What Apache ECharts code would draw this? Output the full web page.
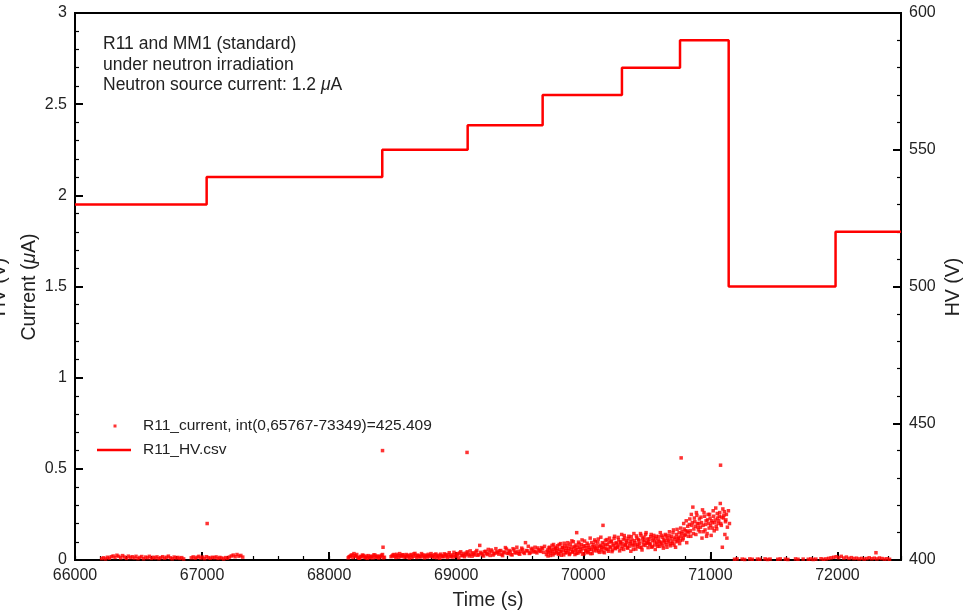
<!DOCTYPE html>
<html>
<head>
<meta charset="utf-8">
<script src="https://cdn.jsdelivr.net/npm/echarts@6.0.0/dist/echarts.min.js"></script>
<style>
  html, body { margin: 0; padding: 0; background: #fff; }
  #chart { width: 965px; height: 610px; }
</style>
</head>
<body>
<div id="chart"></div>
<script>
// HV set points (right axis), value holds from each time until the next one
const hvTimes = [66000, 67036, 68418, 69090, 69680, 70304, 70761, 71144, 71985, 72500];
const hvValues = [530, 540, 550, 559, 570, 580, 590, 500, 520, 520];

// current readings, regular sampling per segment (null = no reading)
const curAStart = 66210, curAStep = 15;
const curA = [
  0.008, 0.012, 0.006, 0.015, 0.01, 0.018, 0.022, 0.014, 0.026, 0.02,
  0.012, 0.024, 0.016, 0.009, 0.021, 0.013, 0.018, 0.011, 0.02, 0.008,
  0.014, 0.019, 0.007, 0.016, 0.012, 0.02, 0.009, 0.015, 0.011, 0.017,
  0.008, 0.013, 0.018, 0.01, 0.015, 0.021, 0.012, 0.007, 0.016, 0.011,
  0.014, 0.009, 0.013, 0.006, null, null, null, 0.012, 0.017, 0.01,
  0.015, 0.02, 0.011, 0.016, 0.008, 0.018, 0.013, 0.01, 0.015, 0.012,
  0.017, 0.009, 0.014, 0.011, 0.006, 0.013, 0.01, 0.016, 0.022, 0.027,
  0.018, 0.03, 0.021, 0.025, 0.016
];

const curBStart = 68150, curBStep = 15;
const curB = [
  0.012, 0.02, 0.028, 0.035, 0.022, 0.015, 0.01, 0.018, 0.025, 0.013,
  0.009, 0.016, 0.021, 0.012, 0.027, 0.018, 0.011, 0.02, 0.03, 0.015,
  null, null, null, 0.022, 0.03, 0.014, 0.024, 0.035, 0.019, 0.027,
  0.016, 0.025, 0.011, 0.03, 0.02, 0.036, 0.014, 0.023, 0.017, 0.028,
  0.012, 0.022, 0.031, 0.019, 0.026, 0.015, 0.033, 0.021, 0.01, 0.024,
  0.018, 0.029, 0.014, 0.04, 0.022, 0.016, 0.027, 0.035, 0.012, 0.045,
  0.025, 0.018, 0.038, 0.03, 0.05, 0.021, 0.033, 0.044, 0.026, 0.08,
  0.035, 0.022, 0.048, 0.03, 0.041, 0.055, 0.027, 0.038, 0.046, 0.032,
  0.052, 0.024, 0.04, 0.06, 0.035, 0.045, 0.028, 0.055, 0.038, 0.048,
  0.032, 0.065, 0.042, 0.095, 0.05, 0.036, 0.058, 0.044, 0.07, 0.039,
  0.056, 0.047, 0.062, 0.075
];

// second read-out interleaved with curB (offset 7 s)
const curB2Start = 68157, curB2Step = 15;
const curB2 = [
  0.018, 0.025, 0.014, 0.022, 0.03, 0.011, 0.02, 0.027, 0.016, 0.021,
  0.024, 0.013, 0.019, 0.028, 0.015, 0.022, 0.017, 0.026, 0.012, null,
  null, null, 0.018, 0.027, 0.02, 0.031, 0.015, 0.024, 0.029, 0.017,
  0.03, 0.019, 0.026, 0.014, 0.033, 0.022, 0.027, 0.018, 0.035, 0.021,
  0.027, 0.016, 0.024, 0.035, 0.02, 0.029, 0.013, 0.026, 0.032, 0.019,
  0.034, 0.022, 0.03, 0.018, 0.028, 0.042, 0.02, 0.031, 0.038, 0.024,
  0.036, 0.028, 0.045, 0.022, 0.032, 0.04, 0.027, 0.052, 0.03, 0.042,
  0.028, 0.045, 0.036, 0.058, 0.025, 0.048, 0.034, 0.062, 0.04, 0.05,
  0.03, 0.044, 0.068, 0.038, 0.052, 0.03, 0.062, 0.042, 0.07, 0.035,
  0.048, 0.058, 0.036, 0.052, 0.075, 0.04, 0.064, 0.05, 0.045, 0.066,
  0.05, 0.068, 0.042
];

const curCStart = 69710, curCStep = 8;
const curC = [
  0.03, 0.055, 0.042, 0.07, 0.025, 0.06, 0.048, 0.085, 0.036, 0.064,
  0.05, 0.078, 0.032, 0.058, 0.09, 0.044, 0.068, 0.028, 0.075, 0.052,
  0.04, 0.095, 0.062, 0.035, 0.072, 0.105, 0.046, 0.066, 0.03, 0.082,
  0.056, 0.038, 0.088, 0.07, 0.048, 0.11, 0.062, 0.034, 0.078, 0.052,
  0.092, 0.045, 0.068, 0.12, 0.058, 0.036, 0.084, 0.07, 0.1, 0.05,
  0.064, 0.115, 0.042, 0.08, 0.056, 0.095, 0.072, 0.04, 0.108, 0.06,
  0.086, 0.048, 0.12, 0.068, 0.1, 0.055, 0.078, 0.13, 0.062, 0.09,
  0.07, 0.11, 0.05, 0.095, 0.14, 0.075, 0.058, 0.12, 0.085, 0.105,
  0.065, 0.13, 0.09, 0.048, 0.11, 0.078, 0.145, 0.095, 0.06, 0.12,
  0.085, 0.105, 0.07, 0.135, 0.055, 0.1, 0.125, 0.08, 0.15, 0.095,
  0.068, 0.115, 0.09, 0.14, 0.075, 0.12, 0.1, 0.058, 0.13, 0.088,
  0.11, 0.075, 0.15, 0.095, 0.125, 0.065, 0.105, 0.14, 0.085, 0.12,
  0.1, 0.155, 0.078, 0.13, 0.092, 0.165, 0.115, 0.07, 0.14, 0.105,
  0.125, 0.09, 0.175, 0.145, 0.11, 0.2, 0.135, 0.16, 0.095, 0.185,
  0.15, 0.225, 0.13, 0.19, 0.29, 0.17, 0.21, 0.14, 0.245, 0.18,
  0.2, 0.155, 0.235, 0.12, 0.19, 0.26, 0.165, 0.215, 0.145, 0.25,
  0.175, 0.23, 0.135, 0.205, 0.27, 0.16, 0.22, 0.185, 0.255, 0.2,
  0.24, 0.31, 0.19, 0.07, 0.23, 0.265, 0.21, 0.25, 0.18, 0.27,
  0.2
];

// second read-out interleaved with curC (offset 4 s)
const curC2Start = 69714, curC2Step = 8;
const curC2 = [
  0.045, 0.022, 0.066, 0.05, 0.038, 0.08, 0.028, 0.058, 0.07, 0.042,
  0.062, 0.035, 0.085, 0.047, 0.026, 0.07, 0.055, 0.092, 0.04, 0.064,
  0.078, 0.05, 0.03, 0.088, 0.057, 0.043, 0.1, 0.074, 0.052, 0.036,
  0.07, 0.098, 0.045, 0.06, 0.085, 0.032, 0.076, 0.104, 0.05, 0.067,
  0.04, 0.082, 0.058, 0.035, 0.096, 0.072, 0.052, 0.11, 0.062, 0.079,
  0.098, 0.05, 0.074, 0.125, 0.068, 0.044, 0.088, 0.062, 0.082, 0.112,
  0.058, 0.098, 0.074, 0.104, 0.046, 0.088, 0.118, 0.066, 0.095, 0.072,
  0.124, 0.082, 0.1, 0.062, 0.09, 0.112, 0.134, 0.08, 0.098, 0.068,
  0.118, 0.076, 0.1, 0.128, 0.088, 0.058, 0.106, 0.082, 0.132, 0.074,
  0.112, 0.09, 0.145, 0.068, 0.118, 0.084, 0.108, 0.14, 0.092, 0.115,
  0.1, 0.085, 0.128, 0.07, 0.108, 0.135, 0.082, 0.118, 0.098, 0.075,
  0.128, 0.102, 0.088, 0.135, 0.078, 0.112, 0.096, 0.132, 0.07, 0.108,
  0.135, 0.088, 0.118, 0.102, 0.15, 0.082, 0.124, 0.1, 0.168, 0.118,
  0.15, 0.108, 0.13, 0.155, 0.12, 0.17, 0.14, 0.215, 0.158, 0.13,
  0.195, 0.16, 0.25, 0.205, 0.145, 0.23, 0.185, 0.26, 0.2, 0.165,
  0.225, 0.18, 0.205, 0.275, 0.155, 0.24, 0.195, 0.13, 0.22, 0.2,
  0.25, 0.19, 0.215, 0.175, 0.24, 0.205, 0.285, 0.17, 0.23, 0.215,
  0.26, 0.2, 0.235, 0.28, 0.245, 0.14, 0.22, 0.12
];

const curDStart = 71190, curDStep = 20;
const curD = [
  0.004, 0.006, null, 0.005, 0.003, null, 0.006, 0.004, null, 0.005,
  0.004, null, 0.006, 0.003, 0.005, null, null, 0.004, 0.006, null,
  0.005, 0.003, null, null, 0.006, 0.004, null, 0.005, null, 0.004,
  0.006, 0.003, 0.005, null, 0.007, 0.004, 0.006, 0.009, 0.012, 0.015,
  0.018, 0.013, 0.02, 0.011, 0.016, 0.009, 0.013, 0.008, 0.01, 0.006,
  0.009, 0.005, 0.008, 0.012, 0.007, 0.01, 0.006, 0.011, 0.008, 0.005,
  0.007, 0.004
];

// isolated readings [time, current]
const curSpikes = [
  [67040, 0.2], [68420, 0.6], [68424, 0.07], [69085, 0.59], [69948, 0.15],
  [70155, 0.19], [70770, 0.56], [71080, 0.52], [72303, 0.04]
];

const xTicks = [66000, 67000, 68000, 69000, 70000, 71000, 72000];

const currentName = 'R11_current, int(0,65767-73349)=425.409';
const hvName = 'R11_HV.csv';

const font = '"Liberation Sans", Arial, Helvetica, sans-serif';
const textColor = '#222';

function segPoints(start, step, vals) {
  const pts = [];
  vals.forEach((v, i) => {
    if (v !== null) pts.push([start + i * step, v]);
  });
  return pts;
}

const currentData = []
  .concat(segPoints(curAStart, curAStep, curA))
  .concat(segPoints(curBStart, curBStep, curB))
  .concat(segPoints(curB2Start, curB2Step, curB2))
  .concat(segPoints(curCStart, curCStep, curC))
  .concat(segPoints(curC2Start, curC2Step, curC2))
  .concat(segPoints(curDStart, curDStep, curD))
  .concat(curSpikes);

const hvData = hvTimes.map((t, i) => [t, hvValues[i]]);

const chart = echarts.init(document.getElementById('chart'));

const axisLine = { show: true, lineStyle: { color: '#000', width: 2 } };
const tickLabel = { color: textColor, fontSize: 16, fontFamily: font, margin: 8 };

const option = {
  animation: false,
  backgroundColor: '#fff',
  grid: {
    left: 75, right: 64, top: 13, bottom: 50,
    outerBoundsMode: 'none',
    containLabel: false,
    show: true, borderColor: '#000', borderWidth: 2, backgroundColor: 'transparent'
  },
  legend: {
    orient: 'vertical',
    left: 97,
    top: 417,
    padding: 0,
    itemWidth: 41,
    itemHeight: 8,
    itemGap: 6,
    selectedMode: false,
    textStyle: { color: textColor, fontSize: 15.5, fontFamily: font, lineHeight: 18 },
    data: [
      { name: currentName, icon: 'path://M0,0M41,8M16.5,2.5h3v3h-3z', itemStyle: { color: '#ff0000', borderWidth: 0 } },
      { name: hvName, icon: 'path://M0,0M41,8M0,2.75h34v2.5h-34z', itemStyle: { color: '#ff0000', borderWidth: 0 } }
    ]
  },
  xAxis: [
    {
      type: 'value',
      position: 'bottom',
      min: 66000,
      max: 72500,
      interval: 1000,
      axisLine: axisLine,
      axisTick: { show: true, inside: true, length: 8, lineStyle: { color: '#000', width: 2 } },
      axisLabel: Object.assign({}, tickLabel, {
        formatter: v => (xTicks.indexOf(v) >= 0 ? String(v) : '')
      }),
      splitLine: { show: false },
      name: 'Time (s)',
      nameLocation: 'middle',
      nameGap: 31,
      nameTextStyle: { color: textColor, fontSize: 19.5, fontFamily: font }
    },
    {
      type: 'value',
      position: 'bottom',
      min: 66000,
      max: 72500,
      interval: 200,
      axisLine: { show: false },
      axisTick: { show: true, inside: true, length: 4, lineStyle: { color: '#000', width: 1.2 } },
      axisLabel: { show: false },
      splitLine: { show: false }
    }
  ],
  yAxis: [
    {
      type: 'value',
      position: 'left',
      min: 0,
      max: 3,
      interval: 0.5,
      axisLine: axisLine,
      axisTick: { show: true, inside: true, length: 8, lineStyle: { color: '#000', width: 2 } },
      minorTick: { show: true, splitNumber: 5, length: 4, lineStyle: { color: '#000', width: 1.2 } },
      axisLabel: tickLabel,
      splitLine: { show: false }
    },
    {
      type: 'value',
      position: 'right',
      min: 400,
      max: 600,
      interval: 50,
      axisLine: axisLine,
      axisTick: { show: true, inside: true, length: 8, lineStyle: { color: '#000', width: 2 } },
      minorTick: { show: true, splitNumber: 5, length: 4, lineStyle: { color: '#000', width: 1.2 } },
      axisLabel: tickLabel,
      splitLine: { show: false }
    }
  ],
  graphic: [
    {
      type: 'text',
      x: 103,
      y: 34,
      style: {
        text: 'R11 and MM1 (standard)\nunder neutron irradiation\nNeutron source current: 1.2 {i|μ}A',
        fill: textColor,
        fontSize: 17.5,
        fontFamily: font,
        lineHeight: 20.5,
        verticalAlign: 'top',
        rich: { i: { fontStyle: 'italic', fontSize: 17.5, fontFamily: font, fill: textColor, lineHeight: 20.5 } }
      }
    },
    {
      type: 'text',
      x: 30,
      y: 287,
      rotation: Math.PI / 2,
      style: {
        text: 'Current ({i|μ}A)',
        fill: textColor,
        fontSize: 19.5,
        fontFamily: font,
        align: 'center',
        verticalAlign: 'middle',
        rich: { i: { fontStyle: 'italic', fontSize: 19.5, fontFamily: font, fill: textColor } }
      }
    },
    {
      type: 'text',
      x: 0,
      y: 287,
      rotation: Math.PI / 2,
      style: {
        text: 'HV (V)', fill: textColor, fontSize: 19.5, fontFamily: font,
        align: 'center', verticalAlign: 'middle'
      }
    },
    {
      type: 'text',
      x: 954,
      y: 287,
      rotation: Math.PI / 2,
      style: {
        text: 'HV (V)', fill: textColor, fontSize: 19.5, fontFamily: font,
        align: 'center', verticalAlign: 'middle'
      }
    }
  ],
  series: [
    {
      name: currentName,
      type: 'scatter',
      xAxisIndex: 0,
      yAxisIndex: 0,
      symbol: 'rect',
      symbolSize: 3.5,
      itemStyle: { color: '#ff0000' },
      silent: true,
      data: currentData
    },
    {
      name: hvName,
      type: 'line',
      xAxisIndex: 0,
      yAxisIndex: 1,
      step: 'end',
      symbol: 'none',
      lineStyle: { color: '#ff0000', width: 2.5 },
      itemStyle: { color: '#ff0000' },
      silent: true,
      data: hvData
    }
  ]
};

chart.setOption(option);
</script>
</body>
</html>
